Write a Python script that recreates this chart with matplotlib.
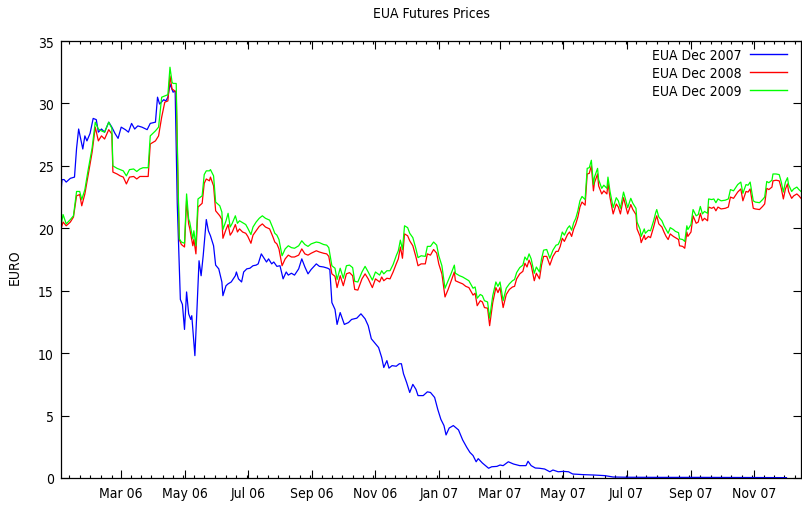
import matplotlib
matplotlib.use("Agg")
import matplotlib.pyplot as plt
import matplotlib.dates as mdates
import numpy as np

START = "2006-01-02"
END = "2007-12-16"

title = "EUA Futures Prices"
ylabel = "EURO"
labels = ["EUA Dec 2007", "EUA Dec 2008", "EUA Dec 2009"]
colors = ["#0000ff", "#ff0000", "#00ff00"]
yticks = [0, 5, 10, 15, 20, 25, 30, 35]

# ---- EUA Dec 2008 / Dec 2009 (days since START) ----
days_rg = [0, 2, 5, 9, 12, 15, 18, 20, 23, 26, 30, 33, 36, 39, 42, 46, 49, 50, 54, 57,
           60, 63, 66, 70, 73, 76, 79, 84, 86, 91, 94, 97, 100, 103, 105, 107, 108, 111, 113, 114,
           116, 119, 121, 123, 124, 127, 128, 130, 132, 136, 138, 140, 143, 144, 147, 149, 153, 155, 156, 159,
           161, 163, 165, 168, 170, 172, 175, 178, 180, 183, 185, 188, 191, 194, 197, 201, 204, 206, 208, 210,
           213, 216, 219, 222, 225, 229, 232, 235, 238, 241, 246, 249, 253, 256, 258, 261, 264, 266, 269, 272,
           275, 278, 281, 283, 286, 290, 293, 296, 300, 303, 307, 309, 311, 314, 317, 320, 323, 325, 327, 329,
           331, 334, 336, 339, 342, 344, 347, 351, 353, 356, 359, 362, 364, 367, 370, 373, 376, 379, 380, 384,
           387, 390, 393, 397, 399, 401, 404, 406, 408, 411, 413, 416, 419, 421, 423, 426, 429, 432, 435, 437,
           439, 442, 445, 447, 449, 451, 453, 456, 458, 461, 463, 465, 468, 471, 474, 477, 479, 481, 483, 485,
           488, 490, 492, 494, 496, 498, 500, 502, 505, 507, 509, 511, 513, 514, 517, 518, 521, 523, 526, 527,
           529, 532, 535, 537, 539, 542, 544, 546, 549, 551, 554, 555, 558, 559, 562, 563, 566, 568, 571, 573,
           574, 576, 579, 581, 583, 585, 587, 590, 592, 595, 596, 599, 601, 603, 604, 607, 609, 612, 614, 616,
           618, 620, 623, 624, 627, 629, 631, 633, 636, 640, 643, 645, 648, 650, 652, 655, 657, 660, 662, 664,
           667, 669, 673, 676, 678, 680, 682, 685, 686, 689, 692, 694, 696, 698, 700, 701, 704, 706, 709, 711,
           713]

dec2008 = [19.95, 20.5, 20.2, 20.5, 20.9, 22.6, 22.7, 21.8, 22.75, 24.2, 26.1, 28.1, 27.0, 27.4, 27.15, 27.9, 27.55, 24.5, 24.35, 24.2,
           24.1, 23.55, 24.1, 24.15, 23.95, 24.15, 24.15, 24.15, 26.75, 27.0, 27.4, 28.9, 30.1, 30.2, 32.2, 31.15, 31.1, 30.9, 22.35, 19.1,
           18.7, 18.5, 22.2, 20.35, 20.0, 18.6, 19.1, 17.95, 21.7, 22.0, 23.6, 23.95, 23.8, 24.1, 23.4, 21.4, 21.0, 20.7, 19.2, 19.9,
           20.3, 19.45, 19.7, 20.3, 19.7, 19.95, 19.7, 19.6, 19.35, 18.8, 19.45, 19.8, 20.15, 20.35, 20.1, 19.95, 19.35, 18.9, 18.75, 18.35,
           17.0, 17.55, 17.85, 17.7, 17.7, 17.85, 18.35, 17.95, 17.85, 18.0, 18.2, 18.1, 18.0, 17.95, 17.75, 16.35, 16.15, 15.25, 16.2, 15.4,
           16.35, 16.45, 16.2, 15.1, 15.05, 15.95, 16.35, 15.95, 15.25, 15.95, 15.7, 16.1, 15.8, 16.0, 15.95, 16.5, 17.15, 17.55, 18.5, 17.6,
           19.55, 19.4, 19.0, 18.6, 17.7, 17.0, 17.15, 17.15, 17.95, 17.85, 18.3, 18.0, 17.15, 16.35, 14.5, 15.1, 15.8, 16.5, 15.8, 15.65,
           15.55, 15.35, 15.25, 14.65, 14.8, 13.8, 14.2, 14.1, 13.65, 13.6, 12.2, 14.05, 15.25, 14.85, 15.25, 13.65, 14.7, 15.1, 15.3, 15.35,
           15.95, 16.35, 16.55, 17.2, 16.9, 17.45, 17.05, 15.8, 16.4, 15.95, 17.05, 17.75, 17.75, 17.05, 17.75, 18.15, 18.15, 18.55, 19.2, 18.95,
           19.5, 19.7, 19.35, 19.95, 20.35, 20.9, 21.7, 22.1, 21.85, 24.35, 24.4, 25.0, 23.0, 23.65, 24.35, 23.4, 22.75, 23.0, 22.75, 23.65,
           22.45, 21.15, 21.95, 21.7, 21.15, 22.45, 21.8, 21.15, 21.9, 21.5, 21.1, 19.95, 19.35, 18.85, 19.45, 19.1, 19.35, 19.25, 20.1, 20.75,
           21.0, 20.35, 20.1, 19.7, 19.35, 19.1, 19.55, 19.35, 19.25, 19.1, 18.6, 18.55, 18.4, 19.7, 19.35, 19.7, 21.0, 20.4, 20.5, 21.2,
           20.6, 20.8, 20.6, 21.7, 21.6, 21.7, 21.4, 21.7, 21.55, 21.6, 21.7, 22.5, 22.4, 22.65, 22.9, 23.15, 22.2, 22.95, 22.9, 23.15,
           21.6, 21.55, 21.5, 21.75, 21.95, 23.2, 23.1, 23.3, 23.8, 23.85, 23.8, 23.2, 22.35, 23.15, 23.55, 22.95, 22.4, 22.6, 22.75, 22.6,
           22.4]

dec2009 = [20.2, 21.1, 20.35, 20.7, 21.0, 22.95, 22.95, 22.3, 23.1, 24.6, 26.45, 28.5, 27.95, 27.8, 27.7, 28.5, 28.0, 25.0, 24.8, 24.7,
           24.6, 24.2, 24.7, 24.75, 24.55, 24.75, 24.85, 24.85, 27.4, 27.8, 28.1, 30.5, 30.6, 30.7, 32.9, 31.7, 31.6, 31.6, 22.9, 19.15,
           18.9, 18.8, 22.75, 20.75, 20.5, 19.15, 19.8, 18.6, 22.35, 22.6, 24.3, 24.6, 24.6, 24.7, 24.2, 22.1, 21.8, 21.3, 19.9, 20.6,
           21.2, 20.1, 20.4, 21.0, 20.4, 20.6, 20.45, 20.3, 20.0, 19.5, 20.1, 20.5, 20.8, 21.0, 20.8, 20.65, 20.05, 19.6, 19.45, 19.1,
           17.8, 18.35, 18.6, 18.45, 18.4, 18.6, 19.0, 18.7, 18.55, 18.75, 18.9, 18.85, 18.7, 18.65, 18.45, 17.0, 16.8, 15.9, 16.8, 16.0,
           17.0, 17.05, 16.85, 15.75, 15.7, 16.5, 16.95, 16.5, 15.85, 16.5, 16.25, 16.6, 16.35, 16.6, 16.6, 17.1, 17.8, 18.2, 19.05, 18.3,
           20.2, 20.05, 19.6, 19.25, 18.35, 17.65, 17.8, 17.75, 18.55, 18.55, 18.9, 18.65, 17.8, 17.0, 15.2, 15.8, 16.4, 17.05, 16.4, 16.2,
           16.1, 15.95, 15.8, 15.2, 15.3, 14.4, 14.7, 14.6, 14.2, 14.1, 12.8, 14.6, 15.7, 15.35, 15.7, 14.2, 15.2, 15.55, 15.8, 15.9,
           16.45, 16.85, 17.05, 17.7, 17.45, 17.95, 17.55, 16.4, 16.9, 16.5, 17.55, 18.25, 18.3, 17.6, 18.25, 18.65, 18.7, 19.05, 19.7, 19.45,
           20.0, 20.2, 19.85, 20.45, 20.8, 21.4, 22.2, 22.55, 22.3, 24.8, 24.85, 25.45, 23.5, 24.1, 24.8, 23.9, 23.2, 23.45, 23.2, 24.1,
           22.95, 21.65, 22.45, 22.2, 21.6, 22.9, 22.3, 21.65, 22.4, 22.0, 21.6, 20.5, 19.9, 19.35, 19.95, 19.6, 19.85, 19.8, 20.6, 21.25,
           21.5, 20.9, 20.6, 20.2, 19.9, 19.6, 20.05, 19.9, 19.75, 19.65, 19.15, 19.1, 18.95, 20.2, 19.9, 20.3, 21.5, 21.0, 21.1, 21.75,
           21.15, 21.35, 21.2, 22.35, 22.3, 22.35, 22.05, 22.35, 22.2, 22.25, 22.35, 23.1, 23.0, 23.25, 23.5, 23.7, 22.8, 23.5, 23.45, 23.7,
           22.2, 22.1, 22.05, 22.3, 22.5, 23.75, 23.65, 23.85, 24.35, 24.35, 24.3, 23.7, 22.9, 23.7, 24.05, 23.5, 22.95, 23.15, 23.3, 23.1,
           22.95]

# ---- EUA Dec 2007 (days since START) ----
days_07 = [0, 1, 3, 5, 9, 13, 15, 17, 21, 23, 25, 28, 31, 34, 36, 39, 42, 46, 49, 52,
           55, 58, 62, 65, 68, 71, 74, 78, 83, 86, 91, 93, 95, 99, 101, 103, 105, 108, 110, 112,
           115, 117, 119, 121, 123, 125, 126, 129, 131, 133, 135, 137, 140, 142, 144, 147, 149, 152, 155, 156,
           159, 161, 164, 168, 169, 171, 174, 176, 179, 182, 185, 188, 190, 193, 196, 198, 200, 203, 205, 208,
           211, 214, 217, 219, 222, 225, 229, 232, 235, 238, 241, 246, 249, 253, 257, 259, 261, 264, 266, 269,
           273, 277, 280, 285, 289, 293, 296, 299, 302, 306, 309, 311, 314, 316, 319, 323, 326, 328, 330, 333,
           336, 339, 342, 344, 349, 353, 356, 360, 363, 366, 369, 371, 374, 378, 383, 387, 391, 394, 397, 400,
           402, 406, 412, 415, 420, 423, 426, 431, 436, 442, 448, 450, 453, 457, 461, 466, 471, 474, 479, 484,
           489, 493, 503, 513, 524, 532, 545, 577, 615, 654, 699]

dec2007 = [22.9, 23.9, 23.9, 23.7, 24.0, 24.1, 26.4, 27.95, 26.35, 27.4, 27.0, 27.6, 28.8, 28.7, 27.7, 27.95, 27.7, 28.5, 28.1, 27.6,
           27.2, 28.1, 27.9, 27.7, 28.4, 27.95, 28.2, 28.1, 27.9, 28.4, 28.5, 30.5, 29.95, 30.3, 30.2, 30.5, 31.55, 30.9, 31.0, 22.0,
           14.3, 13.9, 11.9, 14.9, 13.15, 12.7, 13.0, 9.8, 13.5, 17.4, 16.2, 17.8, 20.7, 19.8, 19.4, 18.6, 17.05, 16.75, 15.7, 14.6,
           15.4, 15.55, 15.7, 16.2, 16.5, 15.95, 15.7, 16.5, 16.75, 16.8, 17.0, 17.05, 17.15, 17.95, 17.55, 17.3, 17.55, 17.15, 17.3, 16.95,
           17.0, 15.95, 16.5, 16.25, 16.4, 16.25, 16.75, 17.55, 16.9, 16.35, 16.7, 17.15, 16.95, 16.9, 16.8, 16.7, 14.05, 13.5, 12.3, 13.25,
           12.3, 12.45, 12.7, 12.8, 13.15, 12.75, 12.2, 11.15, 10.85, 10.45, 9.65, 8.85, 9.4, 8.8, 9.0, 8.95, 9.15, 9.15, 8.35, 7.65,
           6.85, 7.5, 7.1, 6.6, 6.6, 6.9, 6.85, 6.45, 5.5, 4.7, 4.2, 3.45, 4.0, 4.2, 3.85, 3.05, 2.45, 2.05, 1.8, 1.3,
           1.55, 1.2, 0.78, 0.9, 0.93, 1.04, 0.99, 1.3, 1.12, 0.99, 0.99, 1.34, 0.99, 0.8, 0.78, 0.72, 0.5, 0.64, 0.5, 0.53,
           0.5, 0.32, 0.27, 0.24, 0.19, 0.08, 0.06, 0.05, 0.05, 0.04, 0.03]


def to_dates(days):
    return np.datetime64(START) + np.array(days, dtype="timedelta64[D]")


plt.rcParams["font.family"] = ["DejaVu Sans"]
plt.rcParams["font.stretch"] = "condensed"
plt.rcParams["font.size"] = 10

fig = plt.figure(figsize=(8.02, 5.06), dpi=100)
ax = fig.add_axes([61 / 802, 27 / 506, 740 / 802, 437 / 506])

lw = 0.9
ax.plot(to_dates(days_07), dec2007, color=colors[0], lw=lw, label=labels[0])
ax.plot(to_dates(days_rg), dec2008, color=colors[1], lw=lw, label=labels[1])
ax.plot(to_dates(days_rg), dec2009, color=colors[2], lw=lw, label=labels[2])

ax.set_xlim(np.datetime64(START), np.datetime64(END))
ax.set_ylim(0, 35)
ax.set_yticks(yticks)

ax.xaxis.set_major_locator(mdates.MonthLocator(bymonth=[1, 3, 5, 7, 9, 11]))
ax.xaxis.set_major_formatter(mdates.DateFormatter("%b %y"))
ax.xaxis.set_minor_locator(mdates.DayLocator(bymonthday=[10, 20, 30]))

ax.tick_params(axis="both", which="major", direction="in", length=5.5, width=0.8,
               top=True, right=True, colors="black", labelsize=10)
ax.tick_params(axis="x", which="minor", direction="in", length=2.5, width=0.8, top=True)
ax.tick_params(axis="x", which="major", pad=6)
ax.tick_params(axis="y", which="major", pad=5)
for s in ax.spines.values():
    s.set_linewidth(0.9)
    s.set_color("black")

fig.text(431 / 802, 1 - 14 / 506, title, ha="center", va="center", fontsize=10)
fig.text(15 / 802, 1 - 267 / 506, ylabel, rotation=90, ha="center", va="center", fontsize=10)

leg = ax.legend(loc="upper right", bbox_to_anchor=(787 / 802, 1 - 49 / 506),
                bbox_transform=fig.transFigure, frameon=False, markerfirst=False,
                handlelength=2.7, handletextpad=0.6, labelspacing=0.3,
                borderpad=0, borderaxespad=0, fontsize=10)
for h in leg.get_lines():
    h.set_linewidth(1.0)

fig.savefig("out.png", dpi=100)
